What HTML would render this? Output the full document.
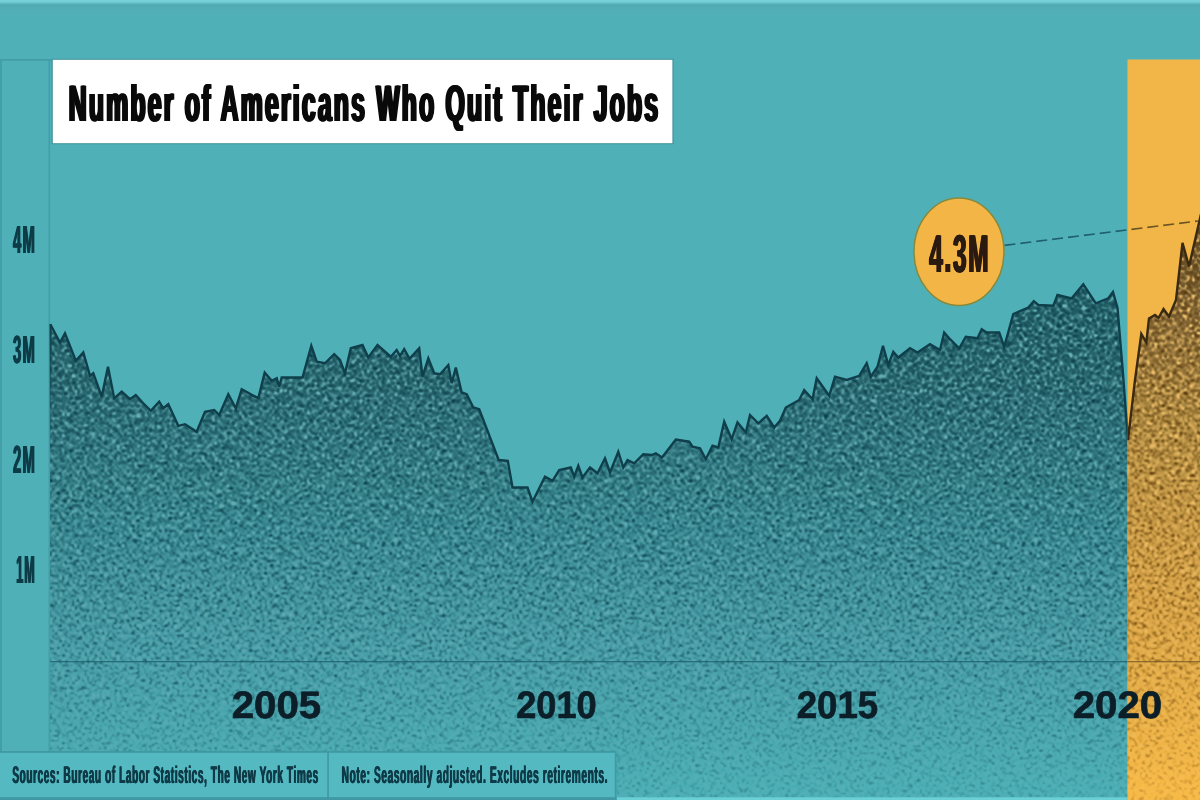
<!DOCTYPE html>
<html><head><meta charset="utf-8"><title>Number of Americans Who Quit Their Jobs</title>
<style>
html,body{margin:0;padding:0;background:#50b0b8;}
body{width:1200px;height:800px;overflow:hidden;position:relative;font-family:"Liberation Sans",sans-serif;}
svg{position:absolute;left:0;top:0;display:block}
text{font-family:"Liberation Sans",sans-serif;font-weight:bold;text-rendering:geometricPrecision}
</style></head><body>
<svg width="1200" height="800" viewBox="0 0 1200 800">
<defs>
  <linearGradient id="gT" x1="0" y1="300" x2="0" y2="800" gradientUnits="userSpaceOnUse">
    <stop offset="0" stop-color="#235f67"/>
    <stop offset="0.18" stop-color="#2b6a72"/>
    <stop offset="0.44" stop-color="#37868f"/>
    <stop offset="0.68" stop-color="#469ba5"/>
    <stop offset="0.96" stop-color="#4caeb5"/>
    <stop offset="1" stop-color="#4db0b7"/>
  </linearGradient>
  <linearGradient id="gO" x1="0" y1="220" x2="0" y2="800" gradientUnits="userSpaceOnUse">
    <stop offset="0" stop-color="#5f4a26"/>
    <stop offset="0.1" stop-color="#745b30"/>
    <stop offset="0.19" stop-color="#8b6e3a"/>
    <stop offset="0.345" stop-color="#ad8941"/>
    <stop offset="0.655" stop-color="#d4a044"/>
    <stop offset="0.966" stop-color="#f6b947"/>
    <stop offset="1" stop-color="#f7ba47"/>
  </linearGradient>
  <linearGradient id="gM" x1="0" y1="300" x2="0" y2="800" gradientUnits="userSpaceOnUse">
    <stop offset="0" stop-color="#fff" stop-opacity="1"/>
    <stop offset="0.6" stop-color="#fff" stop-opacity="0.75"/>
    <stop offset="1" stop-color="#fff" stop-opacity="0.28"/>
  </linearGradient>
  <filter id="grainD" x="0" y="0" width="100%" height="100%" color-interpolation-filters="sRGB">
    <feTurbulence type="fractalNoise" baseFrequency="0.4" numOctaves="2" seed="7" result="n"/>
    <feGaussianBlur in="n" stdDeviation="0.85" result="b"/>
    <feColorMatrix in="b" type="matrix" values="0 0 0 0 0.03  0 0 0 0 0.22  0 0 0 0 0.27  -7.0 0 0 0 3.5"/>
  </filter>
  <filter id="grainL" x="0" y="0" width="100%" height="100%" color-interpolation-filters="sRGB">
    <feTurbulence type="fractalNoise" baseFrequency="0.4" numOctaves="2" seed="7" result="n"/>
    <feGaussianBlur in="n" stdDeviation="0.85" result="b"/>
    <feColorMatrix in="b" type="matrix" values="0 0 0 0 0.42  0 0 0 0 0.70  0 0 0 0 0.72  8.5 0 0 0 -4.25"/>
  </filter>
  <filter id="grainDO" x="0" y="0" width="100%" height="100%" color-interpolation-filters="sRGB">
    <feTurbulence type="fractalNoise" baseFrequency="0.4" numOctaves="2" seed="7" result="n"/>
    <feGaussianBlur in="n" stdDeviation="0.85" result="b"/>
    <feColorMatrix in="b" type="matrix" values="0 0 0 0 0.33  0 0 0 0 0.20  0 0 0 0 0.02  -7.0 0 0 0 3.5"/>
  </filter>
  <filter id="grainLO" x="0" y="0" width="100%" height="100%" color-interpolation-filters="sRGB">
    <feTurbulence type="fractalNoise" baseFrequency="0.4" numOctaves="2" seed="7" result="n"/>
    <feGaussianBlur in="n" stdDeviation="0.85" result="b"/>
    <feColorMatrix in="b" type="matrix" values="0 0 0 0 0.95  0 0 0 0 0.76  0 0 0 0 0.42  8.5 0 0 0 -4.25"/>
  </filter>
  <mask id="mk" maskUnits="userSpaceOnUse" x="0" y="0" width="1200" height="800">
    <rect x="0" y="0" width="1200" height="800" fill="url(#gM)"/>
  </mask>
  <clipPath id="cT"><rect x="49.5" y="0" width="1078" height="800"/></clipPath>
  <clipPath id="cO"><rect x="1127.5" y="0" width="73" height="800"/></clipPath>
  <clipPath id="area"><polygon points="50.3,324.2 60,342.5 65,333.3 75.8,360.8 83.3,352.5 90,375.8 93.3,373.3 101.7,396.7 108,366.7 114.2,398.3 121.7,391.7 130,399.2 135.8,395 143,403 150.8,410.8 159.2,401.7 163.3,408.3 168.3,404.2 178.3,425.8 185,424.2 196.7,431.7 205,411.7 214.2,410 219.2,415 228.3,394.2 235.8,408.3 241.7,389.2 258.3,398.3 264.7,372.5 271.7,380.8 276.7,378.3 279.2,386.7 281.7,377.5 302.5,377.5 311.3,345.8 316.7,361.7 325,363.3 334.2,354.2 340,360 345,373.3 350.8,348.3 362.5,345 368.3,357.5 377.5,345 390.8,356.7 396.7,350 400,356 404.2,349.2 409.5,358.8 419.2,348.3 422.5,376.7 428.3,358.3 434.2,373.3 440,374.2 448.3,365 451.7,383.3 455.8,367.5 461.7,392.5 466.7,394.2 473.3,407.5 479.2,409.2 498.7,460 507.8,460.8 512.5,487.5 527.5,487.5 532.5,501.7 545,476.7 552.5,480.8 559.2,470 570.8,467.5 574.2,476.7 578.3,465.8 582.5,477.5 590,467.5 597.5,473.3 605,458.3 610,472.5 618.3,451.7 623.3,467.5 627.5,460 634.2,463.3 643.3,454.2 651.7,455 655.8,453.3 662,457.5 675.8,439.6 689.2,441.7 692.5,446.7 700,448.3 705.8,459.2 712.5,445.8 718.3,447.5 724.2,421.7 731.7,439.2 737.5,422.5 745.8,432.5 750,415 758.3,423.3 766.7,415.8 774.2,427.5 780,420.8 785.8,407.5 799.2,400 804.2,390 812.5,399.2 816.7,378.3 829.2,395.8 835,376.7 846.7,380 859.2,375.8 866.7,363.3 870.8,376.7 877.5,366.7 883,345.8 888.3,365 893.3,351.7 898.3,357.5 910,348.3 917.5,352.5 930,344.2 940,350 944.2,332.5 950,339.2 959.2,348.3 965.8,336.7 977.5,338.3 981.7,329.2 986.7,332.5 999.2,332.5 1004.2,346.7 1013.3,314 1028.3,307.5 1033.8,301.2 1038.3,305 1053.3,305.8 1057.5,295 1071.7,298.3 1083.3,284.2 1095.8,303.3 1108.3,298.3 1113,292 1117.5,308 1122.5,367.5 1128,440 1135,380 1141.3,333.8 1146.3,342.5 1149,318.5 1155,315 1158.5,318 1163.5,309 1169,316.5 1176,300 1182.5,242.8 1189,266.5 1201,214 1201,800 49.5,800 49.5,324"/></clipPath>
</defs>

<!-- top strips -->
<linearGradient id="gTop" x1="0" y1="0" x2="0" y2="16" gradientUnits="userSpaceOnUse"><stop offset="0" stop-color="#79d1da"/><stop offset="0.12" stop-color="#74ccd5"/><stop offset="0.25" stop-color="#58b3bc"/><stop offset="0.32" stop-color="#4fa8b0"/><stop offset="0.45" stop-color="#53adb5"/><stop offset="1" stop-color="#50b0b8"/></linearGradient>
<rect x="0" y="0" width="1200" height="16" fill="url(#gTop)"/>
<rect x="0" y="59.2" width="52.7" height="1.4" fill="#3f98a2"/>
<rect x="0" y="59" width="2" height="741" fill="#429fa9"/>

<!-- orange band -->
<rect x="1127.5" y="59.5" width="72.5" height="741" fill="#f2b548"/>

<!-- area fill -->
<g clip-path="url(#area)">
  <g clip-path="url(#cT)">
    <rect x="49" y="280" width="1080" height="520" fill="url(#gT)"/>
    <g mask="url(#mk)">
      <rect x="49" y="280" width="1080" height="520" filter="url(#grainD)"/>
      <rect x="49" y="280" width="1080" height="520" filter="url(#grainL)"/>
    </g>
  </g>
  <g clip-path="url(#cO)">
    <rect x="1127" y="200" width="74" height="600" fill="url(#gO)"/>
    <g mask="url(#mk)">
      <rect x="1127" y="200" width="74" height="600" filter="url(#grainDO)"/>
      <rect x="1127" y="200" width="74" height="600" filter="url(#grainLO)"/>
    </g>
  </g>
</g>

<!-- axis lines -->
<rect x="48.5" y="59" width="1.6" height="693" fill="#439ea8"/>
<rect x="50" y="661" width="1077.5" height="1.3" fill="#1f6470" opacity="0.85"/>
<rect x="1127.5" y="661" width="72.5" height="1.3" fill="#7a5c25" opacity="0.8"/>

<!-- outline -->
<linearGradient id="gE" x1="0" y1="324" x2="0" y2="470" gradientUnits="userSpaceOnUse"><stop offset="0" stop-color="#0f3f4b" stop-opacity="0.95"/><stop offset="1" stop-color="#0f3f4b" stop-opacity="0"/></linearGradient>
<rect x="49.5" y="324" width="2" height="146" fill="url(#gE)"/>
<polyline points="50.3,324.2 60,342.5 65,333.3 75.8,360.8 83.3,352.5 90,375.8 93.3,373.3 101.7,396.7 108,366.7 114.2,398.3 121.7,391.7 130,399.2 135.8,395 143,403 150.8,410.8 159.2,401.7 163.3,408.3 168.3,404.2 178.3,425.8 185,424.2 196.7,431.7 205,411.7 214.2,410 219.2,415 228.3,394.2 235.8,408.3 241.7,389.2 258.3,398.3 264.7,372.5 271.7,380.8 276.7,378.3 279.2,386.7 281.7,377.5 302.5,377.5 311.3,345.8 316.7,361.7 325,363.3 334.2,354.2 340,360 345,373.3 350.8,348.3 362.5,345 368.3,357.5 377.5,345 390.8,356.7 396.7,350 400,356 404.2,349.2 409.5,358.8 419.2,348.3 422.5,376.7 428.3,358.3 434.2,373.3 440,374.2 448.3,365 451.7,383.3 455.8,367.5 461.7,392.5 466.7,394.2 473.3,407.5 479.2,409.2 498.7,460 507.8,460.8 512.5,487.5 527.5,487.5 532.5,501.7 545,476.7 552.5,480.8 559.2,470 570.8,467.5 574.2,476.7 578.3,465.8 582.5,477.5 590,467.5 597.5,473.3 605,458.3 610,472.5 618.3,451.7 623.3,467.5 627.5,460 634.2,463.3 643.3,454.2 651.7,455 655.8,453.3 662,457.5 675.8,439.6 689.2,441.7 692.5,446.7 700,448.3 705.8,459.2 712.5,445.8 718.3,447.5 724.2,421.7 731.7,439.2 737.5,422.5 745.8,432.5 750,415 758.3,423.3 766.7,415.8 774.2,427.5 780,420.8 785.8,407.5 799.2,400 804.2,390 812.5,399.2 816.7,378.3 829.2,395.8 835,376.7 846.7,380 859.2,375.8 866.7,363.3 870.8,376.7 877.5,366.7 883,345.8 888.3,365 893.3,351.7 898.3,357.5 910,348.3 917.5,352.5 930,344.2 940,350 944.2,332.5 950,339.2 959.2,348.3 965.8,336.7 977.5,338.3 981.7,329.2 986.7,332.5 999.2,332.5 1004.2,346.7 1013.3,314 1028.3,307.5 1033.8,301.2 1038.3,305 1053.3,305.8 1057.5,295 1071.7,298.3 1083.3,284.2 1095.8,303.3 1108.3,298.3 1113,292 1117.5,308 1122.5,367.5 1128,440 1135,380 1141.3,333.8 1146.3,342.5 1149,318.5 1155,315 1158.5,318 1163.5,309 1169,316.5 1176,300 1182.5,242.8 1189,266.5 1201,214" fill="none" stroke="#0f3f4b" stroke-width="2.4" stroke-linejoin="miter" stroke-miterlimit="3.5" clip-path="url(#cT)"/>
<polyline points="50.3,324.2 60,342.5 65,333.3 75.8,360.8 83.3,352.5 90,375.8 93.3,373.3 101.7,396.7 108,366.7 114.2,398.3 121.7,391.7 130,399.2 135.8,395 143,403 150.8,410.8 159.2,401.7 163.3,408.3 168.3,404.2 178.3,425.8 185,424.2 196.7,431.7 205,411.7 214.2,410 219.2,415 228.3,394.2 235.8,408.3 241.7,389.2 258.3,398.3 264.7,372.5 271.7,380.8 276.7,378.3 279.2,386.7 281.7,377.5 302.5,377.5 311.3,345.8 316.7,361.7 325,363.3 334.2,354.2 340,360 345,373.3 350.8,348.3 362.5,345 368.3,357.5 377.5,345 390.8,356.7 396.7,350 400,356 404.2,349.2 409.5,358.8 419.2,348.3 422.5,376.7 428.3,358.3 434.2,373.3 440,374.2 448.3,365 451.7,383.3 455.8,367.5 461.7,392.5 466.7,394.2 473.3,407.5 479.2,409.2 498.7,460 507.8,460.8 512.5,487.5 527.5,487.5 532.5,501.7 545,476.7 552.5,480.8 559.2,470 570.8,467.5 574.2,476.7 578.3,465.8 582.5,477.5 590,467.5 597.5,473.3 605,458.3 610,472.5 618.3,451.7 623.3,467.5 627.5,460 634.2,463.3 643.3,454.2 651.7,455 655.8,453.3 662,457.5 675.8,439.6 689.2,441.7 692.5,446.7 700,448.3 705.8,459.2 712.5,445.8 718.3,447.5 724.2,421.7 731.7,439.2 737.5,422.5 745.8,432.5 750,415 758.3,423.3 766.7,415.8 774.2,427.5 780,420.8 785.8,407.5 799.2,400 804.2,390 812.5,399.2 816.7,378.3 829.2,395.8 835,376.7 846.7,380 859.2,375.8 866.7,363.3 870.8,376.7 877.5,366.7 883,345.8 888.3,365 893.3,351.7 898.3,357.5 910,348.3 917.5,352.5 930,344.2 940,350 944.2,332.5 950,339.2 959.2,348.3 965.8,336.7 977.5,338.3 981.7,329.2 986.7,332.5 999.2,332.5 1004.2,346.7 1013.3,314 1028.3,307.5 1033.8,301.2 1038.3,305 1053.3,305.8 1057.5,295 1071.7,298.3 1083.3,284.2 1095.8,303.3 1108.3,298.3 1113,292 1117.5,308 1122.5,367.5 1128,440 1135,380 1141.3,333.8 1146.3,342.5 1149,318.5 1155,315 1158.5,318 1163.5,309 1169,316.5 1176,300 1182.5,242.8 1189,266.5 1201,214" fill="none" stroke="#3a2a12" stroke-width="2.4" stroke-linejoin="miter" stroke-miterlimit="3.5" clip-path="url(#cO)"/>

<!-- dashed pointer -->
<line x1="1004.5" y1="245.4" x2="1127.5" y2="229.9" stroke="#1a5866" stroke-width="1.7" stroke-dasharray="11 5" opacity="0.9"/>
<line x1="1127.5" y1="229.9" x2="1198" y2="221" stroke="#5e4a20" stroke-width="1.7" stroke-dasharray="11 5" stroke-dashoffset="12" opacity="0.9"/>

<!-- callout -->
<ellipse cx="959" cy="251.7" rx="45" ry="53.7" fill="#f4b547" stroke="#858a3c" stroke-width="1.5"/>
<g fill="#2b1a10" opacity="0.999"><text x="928.50" y="272.2" font-size="53.2" textLength="61" lengthAdjust="spacingAndGlyphs" letter-spacing="0.07em">4.3M</text><text x="928.85" y="272.2" font-size="53.2" textLength="61" lengthAdjust="spacingAndGlyphs" letter-spacing="0.07em">4.3M</text><text x="929.20" y="272.2" font-size="53.2" textLength="61" lengthAdjust="spacingAndGlyphs" letter-spacing="0.07em">4.3M</text><text x="929.55" y="272.2" font-size="53.2" textLength="61" lengthAdjust="spacingAndGlyphs" letter-spacing="0.07em">4.3M</text><text x="929.90" y="272.2" font-size="53.2" textLength="61" lengthAdjust="spacingAndGlyphs" letter-spacing="0.07em">4.3M</text></g>

<!-- title -->
<rect x="51.6" y="58.8" width="622" height="85.4" fill="#3f929c"/><rect x="52.8" y="59.8" width="619.6" height="83.4" fill="#ffffff"/>
<g fill="#0a0a0a" opacity="0.999"><text x="67.60" y="120.9" font-size="51.2" textLength="591.5" lengthAdjust="spacingAndGlyphs" letter-spacing="0.09em">Number of Americans Who Quit Their Jobs</text><text x="68.20" y="120.9" font-size="51.2" textLength="591.5" lengthAdjust="spacingAndGlyphs" letter-spacing="0.09em">Number of Americans Who Quit Their Jobs</text><text x="68.80" y="120.9" font-size="51.2" textLength="591.5" lengthAdjust="spacingAndGlyphs" letter-spacing="0.09em">Number of Americans Who Quit Their Jobs</text><text x="69.40" y="120.9" font-size="51.2" textLength="591.5" lengthAdjust="spacingAndGlyphs" letter-spacing="0.09em">Number of Americans Who Quit Their Jobs</text><text x="70.00" y="120.9" font-size="51.2" textLength="591.5" lengthAdjust="spacingAndGlyphs" letter-spacing="0.09em">Number of Americans Who Quit Their Jobs</text></g>

<!-- y labels -->
<g fill="#0d3c47" opacity="0.999"><text x="12.50" y="252.7" font-size="39.4" textLength="23" lengthAdjust="spacingAndGlyphs" letter-spacing="0.08em">4M</text><text x="13.00" y="252.7" font-size="39.4" textLength="23" lengthAdjust="spacingAndGlyphs" letter-spacing="0.08em">4M</text><text x="13.50" y="252.7" font-size="39.4" textLength="23" lengthAdjust="spacingAndGlyphs" letter-spacing="0.08em">4M</text><text x="12.50" y="363" font-size="39.4" textLength="23" lengthAdjust="spacingAndGlyphs" letter-spacing="0.08em">3M</text><text x="13.00" y="363" font-size="39.4" textLength="23" lengthAdjust="spacingAndGlyphs" letter-spacing="0.08em">3M</text><text x="13.50" y="363" font-size="39.4" textLength="23" lengthAdjust="spacingAndGlyphs" letter-spacing="0.08em">3M</text><text x="12.50" y="472.5" font-size="39.4" textLength="23" lengthAdjust="spacingAndGlyphs" letter-spacing="0.08em">2M</text><text x="13.00" y="472.5" font-size="39.4" textLength="23" lengthAdjust="spacingAndGlyphs" letter-spacing="0.08em">2M</text><text x="13.50" y="472.5" font-size="39.4" textLength="23" lengthAdjust="spacingAndGlyphs" letter-spacing="0.08em">2M</text><text x="15.80" y="583" font-size="39.4" textLength="19.5" lengthAdjust="spacingAndGlyphs" letter-spacing="0.08em">1M</text><text x="16.30" y="583" font-size="39.4" textLength="19.5" lengthAdjust="spacingAndGlyphs" letter-spacing="0.08em">1M</text><text x="16.80" y="583" font-size="39.4" textLength="19.5" lengthAdjust="spacingAndGlyphs" letter-spacing="0.08em">1M</text></g>

<!-- x labels -->
<g opacity="0.999" fill="#0c1f29" stroke="#0c1f29" stroke-width="0.7" font-size="38.2" text-anchor="middle">
<text x="276.5" y="718.2" textLength="89.5" lengthAdjust="spacingAndGlyphs">2005</text>
<text x="556.5" y="718.2" textLength="80.5" lengthAdjust="spacingAndGlyphs">2010</text>
<text x="837.5" y="718.2" textLength="81.5" lengthAdjust="spacingAndGlyphs">2015</text>
<text x="1117.5" y="718.2" textLength="89.5" lengthAdjust="spacingAndGlyphs">2020</text>
</g>

<!-- footer -->
<rect x="0" y="752" width="616" height="46" fill="#54b9c1"/>
<rect x="0" y="751.2" width="616.5" height="1.5" fill="#3d96a0"/>
<rect x="0" y="797.2" width="616.5" height="2.8" fill="#3f98a2"/>
<rect x="327.3" y="752" width="1.5" height="46" fill="#3d96a0"/>
<rect x="614.8" y="752" width="1.6" height="46" fill="#409aa3"/>
<rect x="617" y="797.3" width="510.5" height="2.7" fill="#6bd0d6"/>
<g fill="#0f3a47" opacity="0.999"><text x="11.95" y="783" font-size="24" textLength="306.5" lengthAdjust="spacingAndGlyphs" letter-spacing="0.06em">Sources: Bureau of Labor Statistics, The New York Times</text><text x="12.30" y="783" font-size="24" textLength="306.5" lengthAdjust="spacingAndGlyphs" letter-spacing="0.06em">Sources: Bureau of Labor Statistics, The New York Times</text><text x="12.65" y="783" font-size="24" textLength="306.5" lengthAdjust="spacingAndGlyphs" letter-spacing="0.06em">Sources: Bureau of Labor Statistics, The New York Times</text><text x="341.25" y="783" font-size="24" textLength="266.5" lengthAdjust="spacingAndGlyphs" letter-spacing="0.06em">Note: Seasonally adjusted. Excludes retirements.</text><text x="341.60" y="783" font-size="24" textLength="266.5" lengthAdjust="spacingAndGlyphs" letter-spacing="0.06em">Note: Seasonally adjusted. Excludes retirements.</text><text x="341.95" y="783" font-size="24" textLength="266.5" lengthAdjust="spacingAndGlyphs" letter-spacing="0.06em">Note: Seasonally adjusted. Excludes retirements.</text></g>
</svg>
</body></html>
